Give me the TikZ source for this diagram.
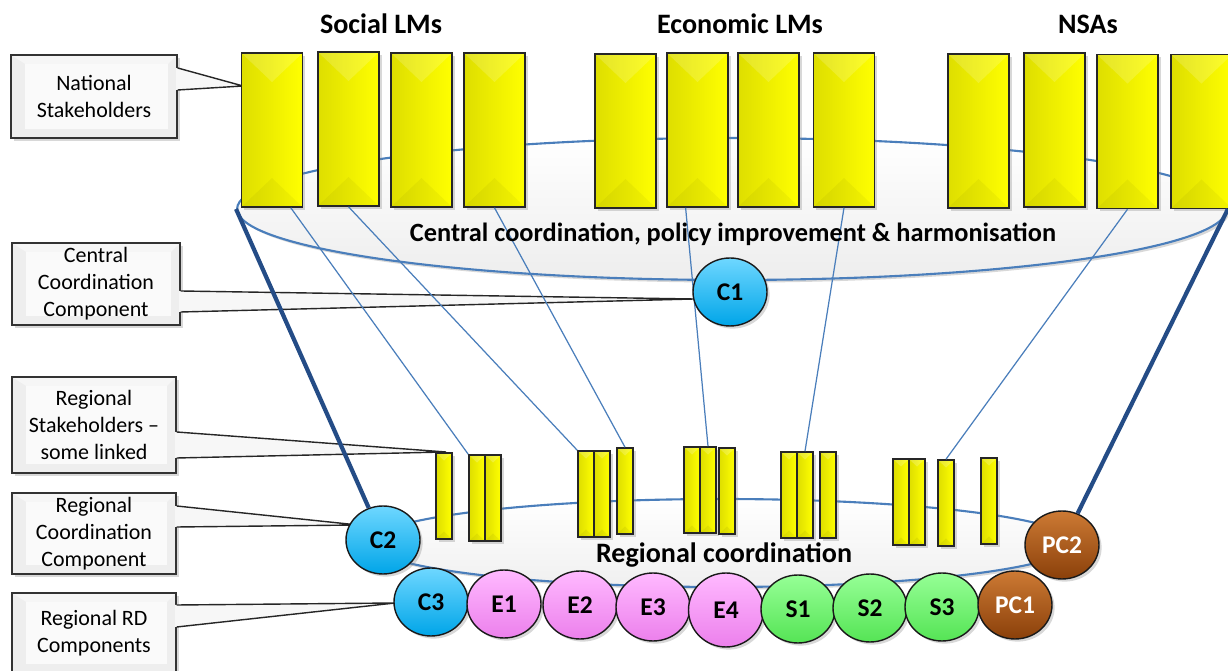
\documentclass[tikz,border=0pt]{standalone}
\usepackage{fontspec}
\setmainfont{Carlito}
\usetikzlibrary{shapes.geometric,shadows,calc}
\definecolor{lnblue}{RGB}{74,126,187}
\definecolor{thkblue}{RGB}{36,76,134}
\definecolor{cyanT}{RGB}{110,215,255}
\definecolor{cyanB}{RGB}{0,165,232}
\definecolor{pinkT}{RGB}{255,185,255}
\definecolor{pinkB}{RGB}{236,128,236}
\definecolor{grnT}{RGB}{150,255,150}
\definecolor{grnB}{RGB}{85,228,85}
\definecolor{brnT}{RGB}{205,122,52}
\definecolor{brnB}{RGB}{138,64,10}
\definecolor{yelL}{RGB}{222,222,0}
\definecolor{yelR}{RGB}{255,255,0}
\tikzset{
  shad/.style={drop shadow={opacity=0.3,shadow xshift=1.5pt,shadow yshift=-1.5pt}},
  bevelbig/.style={path picture={
    \fill[white,opacity=0.16] (path picture bounding box.north west) -- (path picture bounding box.north east) -- ([yshift=-0.58cm]path picture bounding box.north) -- cycle;
    \fill[black,opacity=0.04] (path picture bounding box.south west) -- (path picture bounding box.south east) -- ([yshift=0.58cm]path picture bounding box.south) -- cycle;}},
  bevelsmall/.style={path picture={
    \fill[white,opacity=0.2] (path picture bounding box.north west) -- (path picture bounding box.north east) -- ([yshift=-0.15cm]path picture bounding box.north) -- cycle;
    \fill[black,opacity=0.05] (path picture bounding box.south west) -- (path picture bounding box.south east) -- ([yshift=0.15cm]path picture bounding box.south) -- cycle;}},
  natbox/.style={rectangle, draw=black!85, line width=0.9pt, left color=yelL, right color=yelR,
    minimum width=1.22cm, minimum height=3.08cm, inner sep=0pt, shad, bevelbig},
  regbox/.style={rectangle, draw=black!85, line width=0.9pt, left color=yelL, right color=yelR,
    minimum width=0.32cm, minimum height=1.72cm, inner sep=0pt, shad, bevelsmall},
  circ/.style={ellipse, draw=black!90, line width=0.8pt, minimum width=1.48cm, minimum height=1.36cm,
    inner sep=0pt, font=\bfseries\fontsize{14.5}{14.5}\selectfont, shad},
  cC/.style={circ, top color=cyanT, bottom color=cyanB},
  cE/.style={circ, top color=pinkT, bottom color=pinkB},
  cS/.style={circ, top color=grnT, bottom color=grnB},
  cP/.style={circ, top color=brnT, bottom color=brnB, text=white},
  callbox/.style={rectangle, draw=black!80, line width=0.8pt, fill=gray!13, align=center, inner sep=0pt,
    font=\fontsize{12.5}{15.4}\selectfont, shad,
    path picture={\fill[gray!4] ([xshift=8pt,yshift=-5pt]path picture bounding box.north west) rectangle ([xshift=-5pt,yshift=5pt]path picture bounding box.south east);
      \fill[white,opacity=0.5] (path picture bounding box.north west) -- (path picture bounding box.north east) -- ([xshift=-5pt,yshift=-5pt]path picture bounding box.north east) -- ([xshift=8pt,yshift=-5pt]path picture bounding box.north west) -- cycle;}},
  cfill/.style={fill=gray!6},
  cedge/.style={draw=black!85, line width=0.8pt},
  thinln/.style={draw=lnblue, line width=0.7pt},
  thickln/.style={draw=thkblue, line width=2.4pt},
  ttl/.style={font=\bfseries\fontsize{16}{19}\selectfont},
}
\begin{document}
\begin{tikzpicture}[x=0.02cm,y=-0.02cm]
\useasboundingbox (0,0) rectangle (1228,671);
\fill[white] (0,0) rectangle (1228,671);

% coordination ellipses
\node[ellipse, draw=lnblue, line width=1.2pt, top color=white, bottom color=gray!14,
  minimum width=19.8cm, minimum height=2.84cm, shad] (cen) at (732,209) {};
\node[ellipse, draw=lnblue, line width=1.2pt, top color=white, bottom color=gray!12,
  minimum width=14.08cm, minimum height=1.76cm, shad] (reg) at (722,543) {};

% callouts
\node[callbox, minimum width=3.32cm, minimum height=1.66cm] (kNat) at (94,96.5) {National\\Stakeholders};
\node[callbox, minimum width=3.36cm, minimum height=1.64cm] (kCen) at (96,284) {Central\\Coordination\\Component};
\node[callbox, minimum width=3.28cm, minimum height=1.92cm] (kRS) at (94,425) {Regional\\Stakeholders –\\some linked};
\node[callbox, minimum width=3.28cm, minimum height=1.62cm] (kRC) at (94,533.5) {Regional\\Coordination\\Component};
\node[callbox, minimum width=3.28cm, minimum height=1.6cm] (kRD) at (94,633) {Regional RD\\Components};

\coordinate (tNat) at (243,86);
\coordinate (tCen) at (694,299);
\coordinate (tRS) at (446,452);
\coordinate (tRC) at (358,525);
\coordinate (tRD) at (395,603);

\fill[cfill] ($(kNat.east |- 0,68)+(-1.5,0)$) -- (tNat) -- ($(kNat.east |- 0,90)+(-1.5,0)$) -- cycle;
\draw[cedge] (kNat.east |- 0,68) -- (tNat) -- (kNat.east |- 0,90);
\fill[cfill] ($(kCen.east |- 0,291)+(-1.5,0)$) -- (tCen) -- ($(kCen.east |- 0,312)+(-1.5,0)$) -- cycle;
\draw[cedge] (kCen.east |- 0,291) -- (tCen) -- (kCen.east |- 0,312);
\fill[cfill] ($(kRS.east |- 0,432)+(-1.5,0)$) -- (tRS) -- ($(kRS.east |- 0,458)+(-1.5,0)$) -- cycle;
\draw[cedge] (kRS.east |- 0,432) -- (tRS) -- (kRS.east |- 0,458);
\fill[cfill] ($(kRC.east |- 0,506)+(-1.5,0)$) -- (tRC) -- ($(kRC.east |- 0,527)+(-1.5,0)$) -- cycle;
\draw[cedge] (kRC.east |- 0,506) -- (tRC) -- (kRC.east |- 0,527);
\fill[cfill] ($(kRD.east |- 0,605)+(-1.5,0)$) -- (tRD) -- ($(kRD.east |- 0,627)+(-1.5,0)$) -- cycle;
\draw[cedge] (kRD.east |- 0,605) -- (tRD) -- (kRD.east |- 0,627);

% national stakeholders
\node[natbox] (n1) at (272,130) {};
\node[natbox] (n2) at (348.5,129) {};
\node[natbox] (n3) at (421.5,130) {};
\node[natbox] (n4) at (494.5,130) {};
\node[natbox] (n5) at (625.5,131) {};
\node[natbox] (n6) at (697.5,130) {};
\node[natbox] (n7) at (768.5,130) {};
\node[natbox] (n8) at (844,130) {};
\node[natbox] (n9) at (978.5,131) {};
\node[natbox] (n10) at (1054.5,130) {};
\node[natbox] (n11) at (1127.5,131.5) {};
\node[natbox] (n12) at (1201.5,131.5) {};

% regional stakeholders
\node[regbox] (r1a) at (444,496) {};
\node[regbox] (r1b) at (477,498) {};
\node[regbox] (r1c) at (493,498) {};
\node[regbox] (r2a) at (586,494) {};
\node[regbox] (r2b) at (602,494) {};
\node[regbox] (r2c) at (625,491) {};
\node[regbox] (r3a) at (692,490) {};
\node[regbox] (r3b) at (708,490) {};
\node[regbox] (r3c) at (727,491) {};
\node[regbox] (r4a) at (789,495) {};
\node[regbox] (r4b) at (805,495) {};
\node[regbox] (r4c) at (828,495) {};
\node[regbox] (r5a) at (901,502) {};
\node[regbox] (r5b) at (917,502) {};
\node[regbox] (r5c) at (946,503) {};
\node[regbox] (r5d) at (989,501) {};

% links
\draw[thinln] ($(n1.south west)!0.8!(n1.south east)$) -- (r1b.north west);
\draw[thinln] (n2.south) -- (r2a.north west);
\draw[thinln] (n4.south) -- (r2c.north);
\draw[thinln] ($(n6.south west)!0.31!(n6.south east)$) -- (r3b.north);
\draw[thinln] (n8.south) -- (r4b.north);
\draw[thinln] (n11.south) -- (r5c.north);

% components
\node[cC] (C1) at (730,292) {C1};
\node[cC] (C2) at (383,540) {C2};
\node[cP] (PC2) at (1062,545) {PC2};
\draw[thickln] (cen.west) -- (C2);
\draw[thickln] (cen.east) -- (PC2);

\node[cC] (C3) at (431,602) {C3};
\node[cE] (E1) at (504,604) {E1};
\node[cE] (E2) at (580,605) {E2};
\node[cE] (E3) at (653,607) {E3};
\node[cE, minimum width=1.5cm, minimum height=1.48cm] (E4) at (726,610) {E4};
\node[cS] (S1) at (798,609) {S1};
\node[cS] (S2) at (870,608) {S2};
\node[cS] (S3) at (942,607) {S3};
\node[cP] (PC1) at (1015,605) {PC1};

% texts
\node[ttl] (tSoc) at (381,24) {Social LMs};
\node[ttl] (tEco) at (740,24) {Economic LMs};
\node[ttl] (tNSA) at (1088,24) {NSAs};
\node[font=\bfseries\fontsize{15}{18}\selectfont] (lCen) at (733,234) {Central coordination, policy improvement \& harmonisation};
\node[font=\bfseries\fontsize{16}{19}\selectfont] (lReg) at (724,555) {Regional coordination};
\end{tikzpicture}
\end{document}
